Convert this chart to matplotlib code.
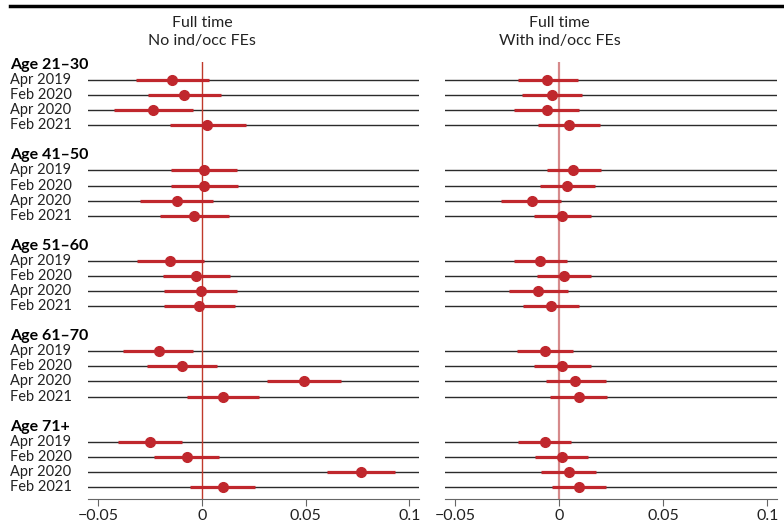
import matplotlib
matplotlib.use("Agg")
import matplotlib.pyplot as plt
import matplotlib.transforms as transforms
from matplotlib.lines import Line2D

plt.rcParams['font.family'] = ['Lato', 'DejaVu Sans']

# data
groups = ["Age 21\u201330", "Age 41\u201350", "Age 51\u201360", "Age 61\u201370", "Age 71+"]
periods = ["Apr 2019", "Feb 2020", "Apr 2020", "Feb 2021"]
panel_titles = ["Full time\nNo ind/occ FEs", "Full time\nWith ind/occ FEs"]

# no ind/occ FEs: point, low, high per group (rows in period order)
no_fe_est = [
    [-0.0145, -0.0087, -0.0236, 0.0024],
    [0.0011, 0.0011, -0.0122, -0.0039],
    [-0.0153, -0.0027, -0.0006, -0.0013],
    [-0.0207, -0.0096, 0.0492, 0.0101],
    [-0.0251, -0.0072, 0.0767, 0.0101],
]
no_fe_lo = [
    [-0.0318, -0.0260, -0.0424, -0.0154],
    [-0.0149, -0.0149, -0.0299, -0.0204],
    [-0.0315, -0.0190, -0.0182, -0.0182],
    [-0.0380, -0.0265, 0.0313, -0.0072],
    [-0.0404, -0.0231, 0.0603, -0.0058],
]
no_fe_hi = [
    [0.0034, 0.0092, -0.0043, 0.0212],
    [0.0170, 0.0174, 0.0055, 0.0132],
    [0.0008, 0.0135, 0.0170, 0.0158],
    [-0.0043, 0.0072, 0.0670, 0.0275],
    [-0.0096, 0.0082, 0.0930, 0.0256],
]

# with ind/occ FEs
fe_est = [
    [-0.0058, -0.0034, -0.0062, 0.0048],
    [0.0067, 0.0038, -0.0133, 0.0013],
    [-0.0093, 0.0021, -0.0103, -0.0040],
    [-0.0071, 0.0014, 0.0077, 0.0093],
    [-0.0071, 0.0011, 0.0045, 0.0094],
]
fe_lo = [
    [-0.0197, -0.0178, -0.0216, -0.0101],
    [-0.0059, -0.0091, -0.0279, -0.0122],
    [-0.0220, -0.0109, -0.0242, -0.0175],
    [-0.0204, -0.0120, -0.0064, -0.0045],
    [-0.0197, -0.0117, -0.0090, -0.0034],
]
fe_hi = [
    [0.0087, 0.0110, 0.0096, 0.0197],
    [0.0199, 0.0170, 0.0010, 0.0151],
    [0.0038, 0.0152, 0.0042, 0.0096],
    [0.0064, 0.0151, 0.0223, 0.0231],
    [0.0056, 0.0138, 0.0178, 0.0223],
]

xticks = [-0.05, 0, 0.05, 0.1]
xticklabels = ["\u22120.05", "0", "0.05", "0.1"]

red = "#c0272d"

fig = plt.figure(figsize=(7.84, 5.22), dpi=100)
ax1 = fig.add_axes([88 / 784, 1 - 499 / 522, 331 / 784, 437 / 522])
ax2 = fig.add_axes([445 / 784, 1 - 499 / 522, 332 / 784, 437 / 522])

panels = [
    (ax1, no_fe_est, no_fe_lo, no_fe_hi, "#c0392b", 1.0),
    (ax2, fe_est, fe_lo, fe_hi, "#d68a8b", 1.6),
]

for i, (ax, est, lo, hi, zc, zw) in enumerate(panels):
    ax.set_xlim(-0.055, 0.1046)
    ax.set_ylim(28.8, -0.2)
    ax.axvline(0, color=zc, lw=zw, zorder=1)
    for g in range(len(groups)):
        for r in range(len(periods)):
            y = g * 6 + r + 1
            ax.axhline(y, color="#2b2b2b", lw=1.0, zorder=0)
            ax.plot([lo[g][r], hi[g][r]], [y, y], color=red, lw=2.3,
                    solid_capstyle="butt", zorder=2)
            ax.plot(est[g][r], y, "o", color=red, ms=7, zorder=3)
    for s in ["top", "right", "left"]:
        ax.spines[s].set_visible(False)
    ax.spines["bottom"].set_color("#666666")
    ax.set_yticks([])
    ax.set_xticks(xticks)
    ax.set_xticklabels(xticklabels, fontsize=11.5, color="#222222")
    ax.tick_params(axis="x", direction="out", length=5, color="#666666", pad=2)

    trans = transforms.blended_transform_factory(ax.transData, fig.transFigure)
    ax.text(0, 1 - 32 / 522, panel_titles[i], transform=trans, ha="center",
            va="center", fontsize=11.5, color="#222222", linespacing=1.3)

# row labels on the left
ltrans = transforms.blended_transform_factory(fig.transFigure, ax1.transData)
for g, name in enumerate(groups):
    ax1.text(10 / 784, g * 6, name, transform=ltrans, ha="left", va="center",
             fontsize=11.5, fontweight="bold", color="black")
    for r, p in enumerate(periods):
        ax1.text(10 / 784, g * 6 + r + 1, p, transform=ltrans, ha="left",
                 va="center", fontsize=10.5, color="#222222")

# rule under the cropped title
fig.add_artist(Line2D([10 / 784, 1], [1 - 6 / 522, 1 - 6 / 522], color="black",
                      lw=2.5, transform=fig.transFigure))

fig.savefig("out.png", dpi=100)
